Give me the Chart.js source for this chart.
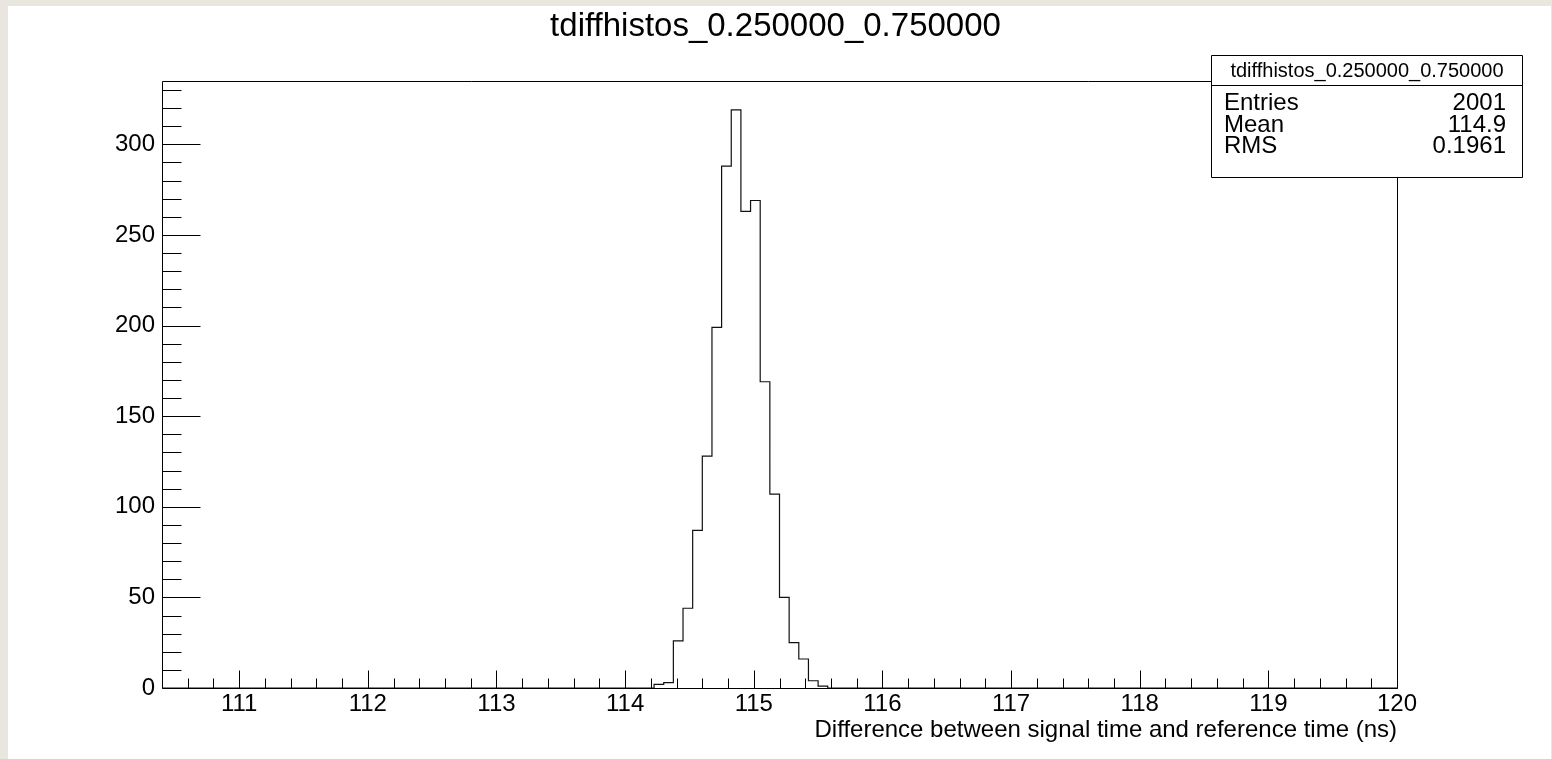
<!DOCTYPE html>
<html><head><meta charset="utf-8">
<style>
html,body{margin:0;padding:0;background:#e9e6e0;width:1552px;height:759px;overflow:hidden;}
#wrap{position:absolute;left:8px;top:6px;width:1543px;height:753px;background:#fff;}
canvas{display:block;}
</style>
<script src="https://cdn.jsdelivr.net/npm/chart.js@4.4.0/dist/chart.umd.min.js"></script>
</head><body><div id="wrap"><canvas id="c" width="1543" height="753"></canvas></div>
<script>
// ---- data ----
const histTitle = 'tdiffhistos_0.250000_0.750000';
const xAxisTitle = 'Difference between signal time and reference time (ns)';
const xMin = 110.4;
const xMax = 120;
const binWidth = 0.075;
// 128 bins of width 0.075 ns from 110.4 to 120
const counts = [
  0,0,0,0,0,0,0,0,0,0, 0,0,0,0,0,0,0,0,0,0,
  0,0,0,0,0,0,0,0,0,0, 0,0,0,0,0,0,0,0,0,0,
  0,0,0,0,0,0,0,0,0,0, 0,2,3,26,44,87,128,199,288,319,
  263,269,169,107,50,25,16,4,1,0, 0,0,0,0,0,0,0,0,0,0,
  0,0,0,0,0,0,0,0,0,0, 0,0,0,0,0,0,0,0,0,0,
  0,0,0,0,0,0,0,0,0,0, 0,0,0,0,0,0,0,0,0,0,
  0,0,0,0,0,0,0,0
];
const xTickValues = [111,112,113,114,115,116,117,118,119,120];
const yTickValues = [0,50,100,150,200,250,300];
const yMax = 334.95;
const statsTitle = 'tdiffhistos_0.250000_0.750000';
const statsLabels = ['Entries','Mean','RMS'];
const statsValues = ['2001','114.9','0.1961'];

// ---- build ----
const FF = "'Liberation Sans', Arial, Helvetica, sans-serif";
const points = counts.map((c,k)=>({x: xMin + k*binWidth, y: c}));
points.push({x: xMax, y: 0});

const rootPlugin = {
  id: 'rootPlugin',
  afterDraw(chart){
    const ctx = chart.ctx, xs = chart.scales.x, ys = chart.scales.y;
    const a = chart.chartArea;
    const L = Math.round(a.left)+0.5, R = Math.round(a.right)+0.5;
    const T = Math.round(a.top)+0.5, B = Math.round(a.bottom)+0.5;
    ctx.save();
    ctx.strokeStyle = '#000'; ctx.lineWidth = 1;
    ctx.beginPath();
    ctx.rect(L, T, R-L, B-T);
    ctx.stroke();
    ctx.beginPath();
    for (let i=0; i*10 <= yMax; i++){
      const v = i*10;
      const y = Math.round(ys.getPixelForValue(v))+0.5;
      const len = (v % 50 === 0) ? 38 : 19;
      ctx.moveTo(L, y); ctx.lineTo(L+len, y);
    }
    for (let j=Math.ceil(xMin*5+1e-9); j <= Math.floor(xMax*5+1e-9); j++){
      const v = j/5;
      const x = Math.round(xs.getPixelForValue(v))+0.5;
      const len = (j % 5 === 0) ? 18 : 10;
      ctx.moveTo(x, B); ctx.lineTo(x, B-len);
    }
    ctx.stroke();
    // stats box
    const bx0 = 1203.5, bx1 = 1514.5, by0 = 49.5, by1 = 171.5, bsep = 79.5;
    ctx.fillStyle = '#fff';
    ctx.fillRect(bx0, by0, bx1-bx0, by1-by0);
    ctx.beginPath();
    ctx.rect(bx0, by0, bx1-bx0, by1-by0);
    ctx.moveTo(bx0, bsep); ctx.lineTo(bx1, bsep);
    ctx.stroke();
    ctx.fillStyle = '#000';
    ctx.textBaseline = 'alphabetic';
    ctx.font = '20px ' + FF;
    ctx.textAlign = 'center';
    ctx.fillText(statsTitle, (bx0+bx1)/2, 71.3);
    ctx.font = '24px ' + FF;
    const rowsY = [104, 125.7, 147.3];
    statsLabels.forEach((lab,i)=>{
      ctx.textAlign = 'left'; ctx.fillText(lab, 1216, rowsY[i]);
      ctx.textAlign = 'right'; ctx.fillText(statsValues[i], 1498, rowsY[i]);
    });
    ctx.restore();
  }
};

new Chart(document.getElementById('c'), {
  type: 'line',
  data: { datasets: [{
    data: points, stepped: 'before', borderColor: '#111', borderWidth: 1.2,
    pointRadius: 0, fill: false, tension: 0
  }]},
  options: {
    responsive: false, animation: false, devicePixelRatio: 1,
    layout: { padding: { left: 0, right: 8, top: 0, bottom: 0 } },
    plugins: {
      legend: { display: false }, tooltip: { enabled: false },
      title: { display: true, text: histTitle, color: '#000',
        font: { family: FF, size: 33, weight: 'normal' },
        padding: { top: 1, bottom: 34.4 } }
    },
    scales: {
      x: { type: 'linear', min: xMin, max: xMax,
        grid: { display: false, drawTicks: false }, border: { display: false },
        ticks: { color: '#000', font: { family: FF, size: 24 }, padding: 2,
          maxRotation: 0, autoSkip: false, callback: v => String(v) },
        afterBuildTicks: s => { s.ticks = xTickValues.map(v => ({ value: v })); },
        afterFit: s => { s.height = 71; },
        title: { display: true, text: xAxisTitle, align: 'end', color: '#000',
          font: { family: FF, size: 24 }, padding: { top: 0, bottom: 14.7 } } },
      y: { type: 'linear', min: 0, max: yMax,
        grid: { display: false, drawTicks: false }, border: { display: false },
        ticks: { color: '#000', font: { family: FF, size: 24 }, padding: 7,
          callback: v => String(v) },
        afterBuildTicks: s => { s.ticks = yTickValues.map(v => ({ value: v })); },
        afterFit: s => { s.width = 154; } },
      y2: { type: 'linear', position: 'right', display: true,
        grid: { display: false, drawTicks: false }, border: { display: false },
        ticks: { display: false },
        afterFit: s => { s.width = 146; } }
    }
  },
  plugins: [rootPlugin]
});
</script>
</body></html>
